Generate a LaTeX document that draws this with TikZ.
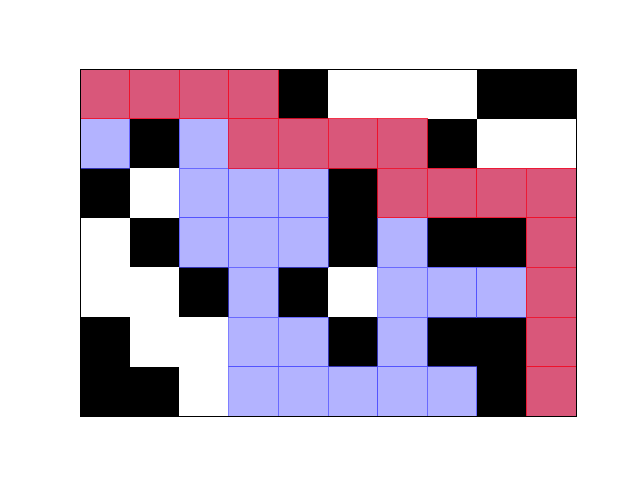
\documentclass[tikz,border=0pt]{standalone}
\definecolor{redfill}{HTML}{D9577A}
\definecolor{bluefill}{HTML}{B3B3FF}
\definecolor{rededge}{HTML}{F0102A}
\definecolor{blueedge}{HTML}{4A4AFF}
\tikzset{
  blackcell/.style={fill=black},
  redcell/.style={fill=redfill, draw=rededge, draw opacity=0.85, line width=1pt},
  bluecell/.style={fill=bluefill, draw=blueedge, draw opacity=0.7, line width=1pt},
  frame/.style={draw=black, line width=1pt}
}
\begin{document}
\begin{tikzpicture}[x=1pt,y=-1pt]
\useasboundingbox (0,0) rectangle (640,480);
\fill[white] (0,0) rectangle (640,480);
\def\cs{49.6}
\foreach \c/\r in {4/0,8/0,9/0,1/1,7/1,0/2,5/2,1/3,5/3,7/3,8/3,2/4,4/4,0/5,5/5,7/5,8/5,0/6,1/6,8/6}
  \path[blackcell] ({80+\c*\cs},{69+\r*\cs}) rectangle ++(\cs,\cs);
\foreach \c/\r in {0/1,2/1,2/2,3/2,4/2,2/3,3/3,4/3,6/3,3/4,6/4,7/4,8/4,3/5,4/5,6/5,3/6,4/6,5/6,6/6,7/6}
  \path[bluecell] ({80+\c*\cs},{69+\r*\cs}) rectangle ++(\cs,\cs);
\foreach \c/\r in {0/0,1/0,2/0,3/0,3/1,4/1,5/1,6/1,6/2,7/2,8/2,9/2,9/3,9/4,9/5,9/6}
  \path[redcell] ({80+\c*\cs},{69+\r*\cs}) rectangle ++(\cs,\cs);
\path[frame] (80,69) rectangle (576,416);
\end{tikzpicture}
\end{document}
